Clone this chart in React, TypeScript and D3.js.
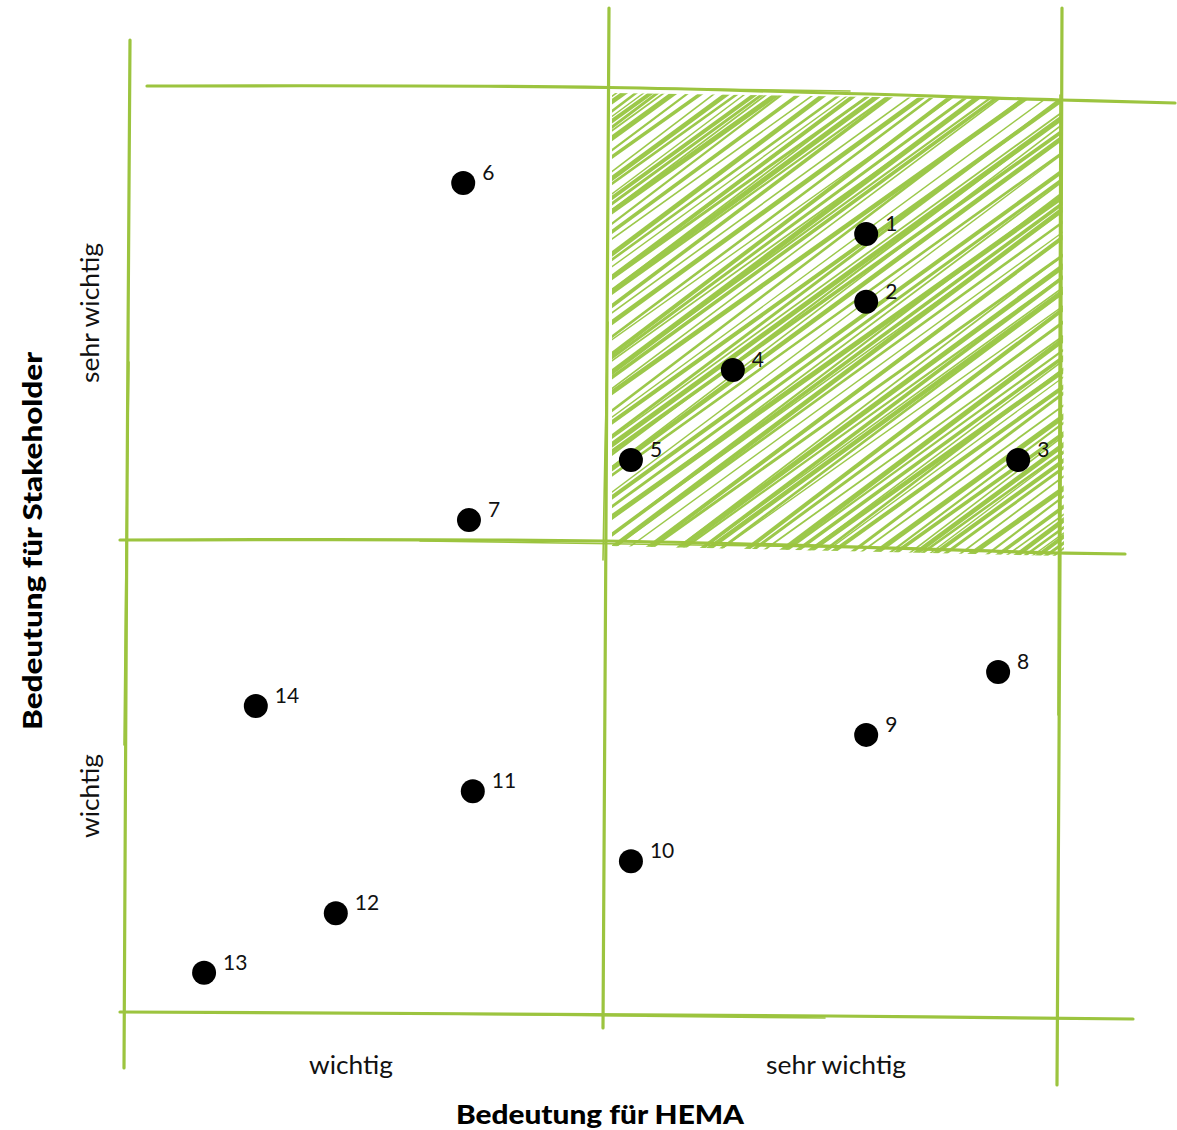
import React from "react";
import * as d3 from "d3";

// Data: importance for HEMA (x) and for stakeholders (y); scale 0..2, 1 = quadrant border
const ids = ["1", "2", "3", "4", "5", "6", "7", "8", "9", "10", "11", "12", "13", "14"];
const hemaValues = [1.574, 1.574, 1.908, 1.281, 1.057, 0.704, 0.716, 1.864, 1.574, 1.057, 0.724, 0.438, 0.163, 0.271];
const stakeholderValues = [1.677, 1.527, 1.177, 1.376, 1.177, 1.79, 1.044, 0.721, 0.588, 0.321, 0.469, 0.211, 0.085, 0.649];
const xTickLabels = ["wichtig", "sehr wichtig"];
const yTickLabels = ["wichtig", "sehr wichtig"];
const xTitle = "Bedeutung für HEMA";
const yTitle = "Bedeutung für Stakeholder";

const W = 1177;
const H = 1130;
const GREEN = "#9cc43f";
const HATCH = "#9cc84a";
const FONT = "Lato, 'Noto Sans', sans-serif";

const x = d3.scaleLinear().domain([0, 1, 2]).range([126, 605, 1060]);
const y = d3.scaleLinear().domain([0, 1, 2]).range([1013, 540, 88]);

const line = d3.line<[number, number]>().curve(d3.curveCatmullRom);

function sketch(pts: [number, number][], w = 3, key?: string) {
  return (
    <path
      key={key}
      d={line(pts) || ""}
      fill="none"
      stroke={GREEN}
      strokeWidth={w}
      strokeLinecap="round"
      strokeLinejoin="round"
    />
  );
}

export default function App() {
  // hatch lines (decorative pattern)
  const hatch: { p: [number, number][]; w: number }[] = [];
  let p = 430;
  let i = 0;
  const widths = [3.6, 1.6, 4.6, 2.6, 1.4, 4.0, 3.0, 1.8, 5.0, 2.2];
  const gaps = [7.0, 4.5, 8.5, 5.5, 3.5, 7.5, 6.0, 4.0, 9.0, 5.0, 6.0];
  const angs = [36, 36.8, 35.4, 37.2, 36.3, 35.6, 36.9, 35.9];
  const a0 = (36 * Math.PI) / 180;
  const n: [number, number] = [Math.sin(a0), Math.cos(a0)];
  const pc = 837 * n[0] + 325 * n[1];
  while (p < 1130) {
    const a = (angs[i % angs.length] * Math.PI) / 180;
    const dvec: [number, number] = [Math.cos(a), -Math.sin(a)];
    const cx = 837 + (p - pc) * n[0];
    const cy = 325 + (p - pc) * n[1];
    hatch.push({
      p: [
        [cx - 700 * dvec[0], cy - 700 * dvec[1]],
        [cx + 700 * dvec[0], cy + 700 * dvec[1]],
      ],
      w: widths[i % widths.length],
    });
    p += gaps[(i * 3) % gaps.length];
    i++;
  }

  const clipPts = [
    [612, 93],
    [1062, 100],
    [1064, 556],
    [612, 546],
  ];

  return (
    <svg
      width={W}
      height={H}
      style={{ position: "absolute", left: 0, top: 0, display: "block", background: "#fff" }}
    >
      <defs>
        <clipPath id="hq">
          <polygon points={clipPts.map((c) => c.join(",")).join(" ")} />
        </clipPath>
      </defs>

      {/* hatched quadrant */}
      <g clipPath="url(#hq)">
        {hatch.map((h, k) => (
          <path key={k} d={line(h.p) || ""} stroke={HATCH} strokeWidth={h.w} fill="none" />
        ))}
      </g>

      {/* grid lines (sketchy) */}
      {sketch([[130, 40], [127, 500], [124, 1068]], 3.2, "v1")}
      {sketch([[129, 362], [126, 560], [124, 745]], 1.6, "v1b")}
      {sketch([[609, 8], [606, 520], [603, 1028]], 3.2, "v2")}
      {sketch([[608, 322], [605, 450], [603, 560]], 1.6, "v2b")}
      {sketch([[1062, 8], [1060, 560], [1057, 1085]], 3.2, "v3")}
      {sketch([[1060, 95], [1059, 400], [1058, 715]], 1.6, "v3b")}

      {sketch([[147, 86], [609, 87.5], [1060, 100], [1175, 103]], 3.2, "h1")}
      {sketch([[470, 86], [850, 91]], 1.6, "h1b")}
      {sketch([[120, 540], [605, 541], [1060, 553], [1125, 554]], 3.2, "h2")}
      {sketch([[420, 541], [900, 548]], 1.6, "h2b")}
      {sketch([[120, 1012], [830, 1016], [1133, 1019]], 3.2, "h3")}
      {sketch([[430, 1014], [825, 1018]], 1.6, "h3b")}

      {/* points */}
      {ids.map((id, k) => {
        const cx = x(hemaValues[k]);
        const cy = y(stakeholderValues[k]);
        return (
          <g key={id}>
            <circle cx={cx} cy={cy} r={12} fill="#000" />
            <text x={cx + 19} y={cy - 3} fontFamily={FONT} fontSize={21} fill="#111">
              {id}
            </text>
          </g>
        );
      })}

      {/* axis category labels */}
      <text x={351} y={1074} textAnchor="middle" fontFamily={FONT} fontSize={25} fill="#111"
        textLength={84} lengthAdjust="spacingAndGlyphs">
        {xTickLabels[0]}
      </text>
      <text x={836} y={1074} textAnchor="middle" fontFamily={FONT} fontSize={25} fill="#111"
        textLength={140} lengthAdjust="spacingAndGlyphs">
        {xTickLabels[1]}
      </text>
      <text
        transform={`translate(99,796) rotate(-90)`}
        textAnchor="middle"
        fontFamily={FONT}
        fontSize={25}
        fill="#111"
        textLength={84}
        lengthAdjust="spacingAndGlyphs"
      >
        {yTickLabels[0]}
      </text>
      <text
        transform={`translate(99,313) rotate(-90)`}
        textAnchor="middle"
        fontFamily={FONT}
        fontSize={25}
        fill="#111"
        textLength={140}
        lengthAdjust="spacingAndGlyphs"
      >
        {yTickLabels[1]}
      </text>

      {/* titles */}
      <text x={600} y={1124} textAnchor="middle" fontFamily={FONT} fontSize={27} fontWeight={900} fill="#000"
        textLength={288} lengthAdjust="spacingAndGlyphs">
        {xTitle}
      </text>
      <text
        transform={`translate(42,541) rotate(-90)`}
        textAnchor="middle"
        fontFamily={FONT}
        fontSize={27}
        fontWeight={900}
        fill="#000"
        textLength={378}
        lengthAdjust="spacingAndGlyphs"
      >
        {yTitle}
      </text>
    </svg>
  );
}
